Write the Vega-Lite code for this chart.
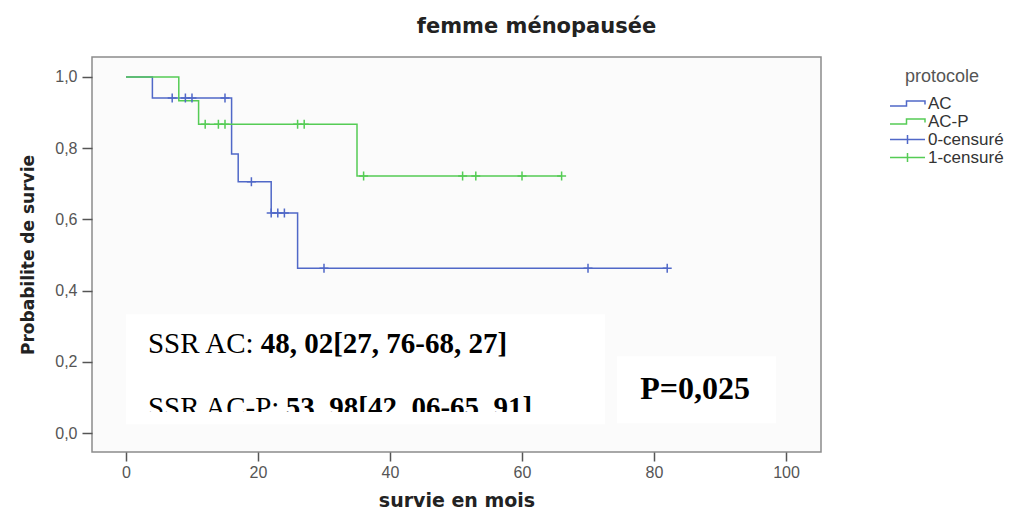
{
  "$schema": "https://vega.github.io/schema/vega-lite/v6.json",
  "width": 729,
  "height": 395,
  "autosize": {"type": "none"},
  "padding": {"left": 92, "top": 57, "right": 208, "bottom": 59},
  "background": "white",
  "title": {"text": "femme ménopausée", "font": "DejaVu Sans", "fontSize": 21, "fontWeight": "bold", "color": "#222222", "anchor": "middle", "dx": 80, "offset": 20},
  "config": {
    "view": {"fill": "#fbfbfb", "stroke": "#8c8c8c", "strokeWidth": 1.5},
    "legend": {"padding": 0}
  },
  "datasets": {
    "curves": [
      {"grp": "AC", "x": 0, "y": 1.0},
      {"grp": "AC", "x": 4, "y": 0.941},
      {"grp": "AC", "x": 16, "y": 0.784},
      {"grp": "AC", "x": 17, "y": 0.706},
      {"grp": "AC", "x": 22, "y": 0.618},
      {"grp": "AC", "x": 26, "y": 0.463},
      {"grp": "AC", "x": 82, "y": 0.463},
      {"grp": "AC-P", "x": 0, "y": 1.0},
      {"grp": "AC-P", "x": 8, "y": 0.933},
      {"grp": "AC-P", "x": 11, "y": 0.867},
      {"grp": "AC-P", "x": 35, "y": 0.722},
      {"grp": "AC-P", "x": 66, "y": 0.722}
    ],
    "censors": [
      {"grp": "0-censuré", "x": 7, "y": 0.941},
      {"grp": "0-censuré", "x": 9, "y": 0.941},
      {"grp": "0-censuré", "x": 10, "y": 0.941},
      {"grp": "0-censuré", "x": 15, "y": 0.941},
      {"grp": "0-censuré", "x": 19, "y": 0.706},
      {"grp": "0-censuré", "x": 22, "y": 0.618},
      {"grp": "0-censuré", "x": 23, "y": 0.618},
      {"grp": "0-censuré", "x": 24, "y": 0.618},
      {"grp": "0-censuré", "x": 30, "y": 0.463},
      {"grp": "0-censuré", "x": 70, "y": 0.463},
      {"grp": "0-censuré", "x": 82, "y": 0.463},
      {"grp": "1-censuré", "x": 12, "y": 0.867},
      {"grp": "1-censuré", "x": 14, "y": 0.867},
      {"grp": "1-censuré", "x": 15, "y": 0.867},
      {"grp": "1-censuré", "x": 26, "y": 0.867},
      {"grp": "1-censuré", "x": 27, "y": 0.867},
      {"grp": "1-censuré", "x": 36, "y": 0.722},
      {"grp": "1-censuré", "x": 51, "y": 0.722},
      {"grp": "1-censuré", "x": 53, "y": 0.722},
      {"grp": "1-censuré", "x": 60, "y": 0.722},
      {"grp": "1-censuré", "x": 66, "y": 0.722}
    ],
    "boxes": [
      {"x": 0, "x2": 72.6, "y": 0.031, "y2": 0.334},
      {"x": 74.4, "x2": 98.5, "y": 0.028, "y2": 0.216}
    ],
    "cover": [
      {"x": 0, "x2": 72.6, "y": 0.025, "y2": 0.059}
    ],
    "labels": [
      {"x": 3.33, "y": 0.225, "text": "SSR AC:"},
      {"x": 3.33, "y": 0.045, "text": "SSR AC-P:"}
    ],
    "values": [
      {"x": 20.4, "y": 0.225, "text": "48, 02[27, 76-68, 27]"},
      {"x": 24.2, "y": 0.045, "text": "53, 98[42, 06-65, 91]"}
    ],
    "pvalue": [
      {"x": 77.9, "y": 0.0955, "text": "P=0,025"}
    ]
  },
  "encoding": {
    "x": {
      "field": "x", "type": "quantitative",
      "scale": {"domain": [-5.15, 105.3], "nice": false, "zero": false},
      "axis": {"values": [0, 20, 40, 60, 80, 100], "title": "survie en mois", "titleFont": "DejaVu Sans", "titleFontSize": 19, "titleFontWeight": "bold", "titleColor": "#222222", "titlePadding": 11, "labelFont": "Liberation Sans", "labelFontSize": 16, "labelColor": "#555555", "labelPadding": 3, "tickSize": 9, "tickColor": "#555555", "tickWidth": 1.5, "domain": false, "grid": false}
    },
    "y": {
      "field": "y", "type": "quantitative",
      "scale": {"domain": [-0.053, 1.056], "nice": false, "zero": false},
      "axis": {"values": [0, 0.2, 0.4, 0.6, 0.8, 1.0], "labelExpr": "replace(format(datum.value, '.1f'), '.', ',')", "title": "Probabilite de survie", "titleFont": "DejaVu Sans", "titleFontSize": 17, "titleFontWeight": "bold", "titleColor": "#222222", "titlePadding": 17, "labelFont": "Liberation Sans", "labelFontSize": 16, "labelColor": "#555555", "labelPadding": 5, "tickSize": 10, "tickColor": "#555555", "tickWidth": 1.5, "domain": false, "grid": false}
    }
  },
  "layer": [
    {
      "data": {"name": "boxes"},
      "mark": {"type": "rect", "fill": "#ffffff", "strokeWidth": 0},
      "encoding": {"x2": {"field": "x2"}, "y2": {"field": "y2"}}
    },
    {
      "data": {"name": "curves"},
      "mark": {"type": "line", "interpolate": "step-after", "strokeWidth": 1.5},
      "encoding": {
        "color": {
          "field": "grp", "type": "nominal",
          "scale": {"domain": ["AC", "AC-P", "0-censuré", "1-censuré"], "range": ["#5068c8", "#55cc55", "#5068c8", "#55cc55"]},
          "legend": {
            "title": "protocole", "orient": "none", "legendX": 807, "legendY": 11,
            "titleFont": "Liberation Sans", "titleFontSize": 18, "titleFontWeight": "normal", "titleColor": "#555555", "titleAnchor": "start", "titlePadding": 9,
            "labelFont": "Liberation Sans", "labelFontSize": 17, "labelColor": "#333333", "labelOffset": 12,
            "symbolSize": 100, "symbolStrokeWidth": 1.5, "rowPadding": 0,
            "encode": {
              "title": {"update": {"dx": {"value": 6}}},
              "symbols": {"update": {
              "shape": {"signal": "(datum.value == 'AC' || datum.value == 'AC-P') ? 'M-3.5,0.5H-0.2V-0.5H3.5V0.2' : 'M-3.5,0H3.5M0,-0.9V0.9'"},
              "stroke": {"scale": "color", "field": "value"},
              "fill": {"value": "transparent"},
              "strokeWidth": {"value": 1.5}
            }}}
          }
        }
      }
    },
    {
      "data": {"name": "censors"},
      "mark": {"type": "point", "shape": "M-1,0H1M0,-1V1", "size": 81, "filled": false, "strokeWidth": 1.5, "opacity": 1},
      "encoding": {"color": {"field": "grp", "type": "nominal"}}
    },
    {
      "data": {"name": "labels"},
      "mark": {"type": "text", "align": "left", "baseline": "alphabetic", "font": "Liberation Serif", "fontSize": 29, "color": "#000000"},
      "encoding": {"text": {"field": "text"}}
    },
    {
      "data": {"name": "values"},
      "mark": {"type": "text", "align": "left", "baseline": "alphabetic", "font": "Liberation Serif", "fontSize": 29, "fontWeight": "bold", "color": "#000000"},
      "encoding": {"text": {"field": "text"}}
    },
    {
      "data": {"name": "pvalue"},
      "mark": {"type": "text", "align": "left", "baseline": "alphabetic", "font": "Liberation Serif", "fontSize": 32, "fontWeight": "bold", "color": "#000000"},
      "encoding": {"text": {"field": "text"}}
    },
    {
      "data": {"name": "cover"},
      "mark": {"type": "rect", "fill": "#ffffff", "strokeWidth": 0},
      "encoding": {"x2": {"field": "x2"}, "y2": {"field": "y2"}}
    }
  ]
}
